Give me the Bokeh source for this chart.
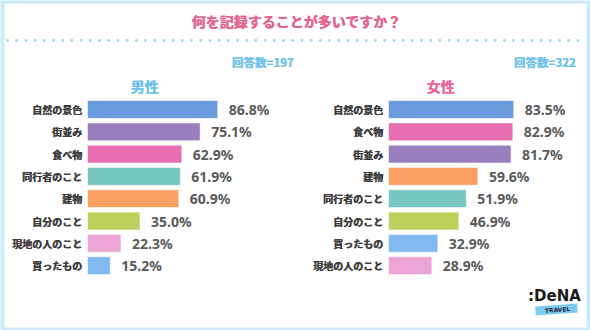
from bokeh.plotting import figure
from bokeh.models import Range1d, ColumnDataSource
from bokeh.core.properties import value
from bokeh.embed import file_html
from bokeh.resources import INLINE
import numpy as np

# ---- data ----
title_text = "何を記録することが多いですか？"
male_label = "男性"
female_label = "女性"
male_n = "回答数=197"
female_n = "回答数=322"

male_categories = ["自然の景色", "街並み", "食べ物", "同行者のこと", "建物", "自分のこと", "現地の人のこと", "買ったもの"]
male_values = [86.8, 75.1, 62.9, 61.9, 60.9, 35.0, 22.3, 15.2]

female_categories = ["自然の景色", "食べ物", "街並み", "建物", "同行者のこと", "自分のこと", "買ったもの", "現地の人のこと"]
female_values = [83.5, 82.9, 81.7, 59.6, 51.9, 46.9, 32.9, 28.9]

category_colors = {
    "自然の景色": "#6a9bdc",
    "街並み": "#9a7fbf",
    "食べ物": "#e870b2",
    "同行者のこと": "#77c6c0",
    "建物": "#f9a163",
    "自分のこと": "#bdd05c",
    "現地の人のこと": "#eca4d5",
    "買ったもの": "#82b9f0",
}

FONT = value("Noto Sans CJK JP")
W, H = 590, 330

# layout parameters (pixels)
bar_x0_m = 87
bar_x0_f = 388
px_per_pct = 1.5
row0 = 109
row_step = 22.3

p = figure(width=W, height=H, x_range=Range1d(0, W), y_range=Range1d(H, 0),
           output_backend="svg", toolbar_location=None, min_border=0,
           x_axis_location=None, y_axis_location=None)
p.grid.visible = False
p.outline_line_color = None
p.background_fill_color = "#c9ecf8"
p.border_fill_color = "#c9ecf8"

p.extra_x_ranges = {
    "m": Range1d(-bar_x0_m / px_per_pct, (W - bar_x0_m) / px_per_pct),
    "f": Range1d(-bar_x0_f / px_per_pct, (W - bar_x0_f) / px_per_pct),
}
p.extra_y_ranges = {"rank": Range1d(start=(H - row0) / row_step, end=-row0 / row_step)}

# white panel
p.quad(left=4, right=586, top=3, bottom=327, fill_color="white", line_color=None)


def bold_text(**kw):
    # draw twice with a sub-pixel offset to thicken the strokes
    xo = kw.pop("x_offset", 0)
    p.text(x_offset=xo, **kw)
    p.text(x_offset=xo + 0.5, **kw)


# title
bold_text(x=[296], y=[20], text=[title_text], text_font=FONT, text_font_size="14px",
          text_font_style="bold", text_color="#e5628e", text_align="center", text_baseline="middle")

# dotted separator
dots_x = np.arange(7, 585, 9.2)
p.scatter(x=dots_x, y=np.full(len(dots_x), 40), size=2.8, fill_color="#9fdcf2", line_color=None)

# respondent counts
bold_text(x=[293, 575], y=[61, 61], text=[male_n, female_n], text_font=FONT, text_font_size="11.5px",
          text_font_style="bold", text_color="#72c3e8", text_align="right", text_baseline="middle")

# panel headings
bold_text(x=[144], y=[85], text=[male_label], text_font=FONT, text_font_size="14px",
          text_font_style="bold", text_color="#6cc3ea", text_align="center", text_baseline="middle")
bold_text(x=[440], y=[85], text=[female_label], text_font=FONT, text_font_size="14px",
          text_font_style="bold", text_color="#e8679a", text_align="center", text_baseline="middle")


def panel(cats, vals, rname):
    src = ColumnDataSource(dict(
        cat=cats, val=vals, rank=list(range(len(cats))),
        color=[category_colors[c] for c in cats],
        lab=[f"{v:.1f}%" for v in vals],
    ))
    p.hbar(y="rank", left=0, right="val", height=0.8, fill_color="color",
           line_color="white", line_alpha=0.55, line_width=1,
           source=src, x_range_name=rname, y_range_name="rank")
    bold_text(x=0, y="rank", text="cat", x_offset=-5.5, source=src,
              x_range_name=rname, y_range_name="rank", text_font=FONT,
              text_font_size="10px", text_font_style="bold", text_color="#3c3c3c",
              text_align="right", text_baseline="middle")
    p.text(x="val", y="rank", text="lab", x_offset=11, source=src,
           x_range_name=rname, y_range_name="rank", text_font=value("Noto Sans"),
           text_font_size="14px", text_font_style="bold", text_color="#5a5a5a",
           text_align="left", text_baseline="middle")


panel(male_categories, male_values, "m")
panel(female_categories, female_values, "f")

# logo
p.text(x=[554], y=[295], text=[":DeNA"], text_font=value("DejaVu Sans"), text_font_size="15px",
       text_font_style="bold", text_color="#1a1a1a", text_align="center", text_baseline="middle")
p.rect(x=[556], y=[309], width=42, height=9, angle=0.07, fill_color="#7cccee", line_color=None)
p.text(x=[557], y=[309], text=["TRAVEL"], text_font=value("DejaVu Sans"), text_font_size="6px",
       text_font_style="bold", text_color="#1d2a44", text_align="center", text_baseline="middle",
       angle=0.07)

open("out.html", "w").write(file_html(p, INLINE))
